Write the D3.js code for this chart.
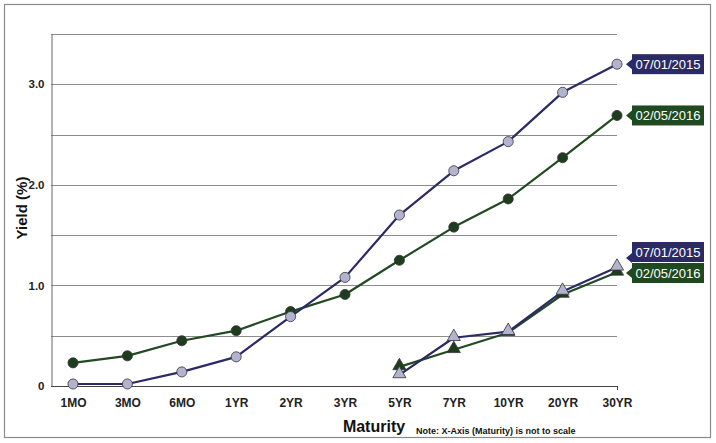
<!DOCTYPE html>
<html><head><meta charset="utf-8">
<script src="https://cdn.jsdelivr.net/npm/d3@7"></script>
<style>body{margin:0;background:#fff}svg{display:block;font-family:"Liberation Sans",Arial,sans-serif}</style>
</head><body><svg id="c" width="716" height="443"></svg>
<script>
const categories = ["1MO","3MO","6MO","1YR","2YR","3YR","5YR","7YR","10YR","20YR","30YR"];
const tipsCategories = ["5YR","7YR","10YR","20YR","30YR"];
const nominal2015 = [0.02,0.02,0.14,0.29,0.69,1.08,1.70,2.14,2.43,2.92,3.20];
const nominal2016 = [0.23,0.30,0.45,0.55,0.74,0.91,1.25,1.58,1.86,2.27,2.69];
const tips2015 = [0.11,0.48,0.54,0.94,1.18];
const tips2016 = [0.19,0.36,0.53,0.91,1.13];
const yTicks = [0,1.0,2.0,3.0];
const yGrid = [0.5,1.0,1.5,2.0,2.5,3.0,3.5];
const labels = ["07/01/2015","02/05/2016"];

const navy="#2b2a66", navyFill="#b2b3cf", green="#224a22", greenFill="#1e3d1e";
const svg=d3.select("#c");
svg.append("rect").attr("x",4.5).attr("y",4.5).attr("width",706).attr("height",433).attr("fill","#fff").attr("stroke","#8a8a8a").attr("stroke-width",1.2);

const x=d3.scalePoint().domain(categories).range([73,617]);
const y=d3.scaleLinear().domain([0,3.5]).range([386,34]);
const L=51,R=617;

svg.append("g").selectAll("line").data(yGrid).join("line")
 .attr("x1",L).attr("x2",R).attr("y1",d=>Math.round(y(d))+0.5).attr("y2",d=>Math.round(y(d))+0.5)
 .attr("stroke","#8c8c8c").attr("stroke-width",1);

const ya=svg.append("g").attr("transform",`translate(${L+0.5},0)`)
 .call(d3.axisLeft(y).tickValues(yTicks).tickFormat(d=>d===0?"0":d3.format(".1f")(d)).tickSize(0).tickPadding(7));
ya.select(".domain").attr("stroke","#666");
ya.selectAll("text").attr("font-size",11.5).attr("font-weight","bold").attr("fill","#222");

const xa=svg.append("g").attr("transform",`translate(0,${386.5})`)
 .call(d3.axisBottom(x).tickSize(0).tickPadding(12));
xa.select(".domain").remove();
svg.append("line").attr("x1",L).attr("x2",R).attr("y1",386.5).attr("y2",386.5).attr("stroke","#444").attr("stroke-width",1);
svg.append("line").attr("x1",R+0.5).attr("x2",R+0.5).attr("y1",386).attr("y2",390).attr("stroke","#444");
xa.selectAll("text").attr("font-size",12).attr("font-weight","bold").attr("fill","#222");

const line=d3.line().x(d=>x(d[0])).y(d=>y(d[1]));
function series(cats,vals,stroke,fill,shape){
  const pts=cats.map((c,i)=>[c,vals[i]]);
  svg.append("path").datum(pts).attr("d",line).attr("fill","none").attr("stroke",stroke).attr("stroke-width",2.2).attr("stroke-linejoin","round");
  const sym=d3.symbol().type(shape==="circle"?d3.symbolCircle:d3.symbolTriangle).size(shape==="circle"?80:75);
  svg.append("g").selectAll("path").data(pts).join("path")
   .attr("d",sym).attr("transform",d=>`translate(${x(d[0])},${y(d[1])-(shape==="circle"?0:1)})`)
   .attr("fill",fill).attr("stroke","#333").attr("stroke-width",0.8);
}
series(categories,nominal2016,green,greenFill,"circle");
series(categories,nominal2015,navy,navyFill,"circle");
series(tipsCategories,tips2016,green,greenFill,"triangle");
series(tipsCategories,tips2015,navy,navyFill,"triangle");

function tag(cy,text,bg,tipY){
  const bx=632,bw=72,bh=20,by=cy-bh/2;
  const g=svg.append("g");
  g.append("path").attr("d",`M${bx},${tipY-5} L${bx-6},${tipY} L${bx},${tipY+5} Z`).attr("fill",bg);
  g.append("rect").attr("x",bx).attr("y",by).attr("width",bw).attr("height",bh).attr("fill",bg);
  g.append("text").attr("x",bx+bw/2).attr("y",cy+4.5).attr("text-anchor","middle").attr("fill","#fff").attr("font-size",13).text(text);
}
tag(y(nominal2015[10]),labels[0],navy,y(nominal2015[10]));
tag(y(nominal2016[10]),labels[1],"#1f4a1f",y(nominal2016[10]));
tag(252,labels[0],navy,258);
tag(273,labels[1],"#1f4a1f",273);

svg.append("text").attr("transform","translate(27,208) rotate(-90)").attr("text-anchor","middle")
 .attr("font-size",15).attr("font-weight","bold").attr("fill","#111").text("Yield (%)");
svg.append("text").attr("x",374).attr("y",432).attr("text-anchor","middle").attr("font-size",16).attr("font-weight","bold").attr("fill","#111").text("Maturity");
svg.append("text").attr("x",416).attr("y",434).attr("font-size",9).attr("font-weight","bold").attr("fill","#111").text("Note: X-Axis (Maturity) is not to scale");
</script></body></html>
